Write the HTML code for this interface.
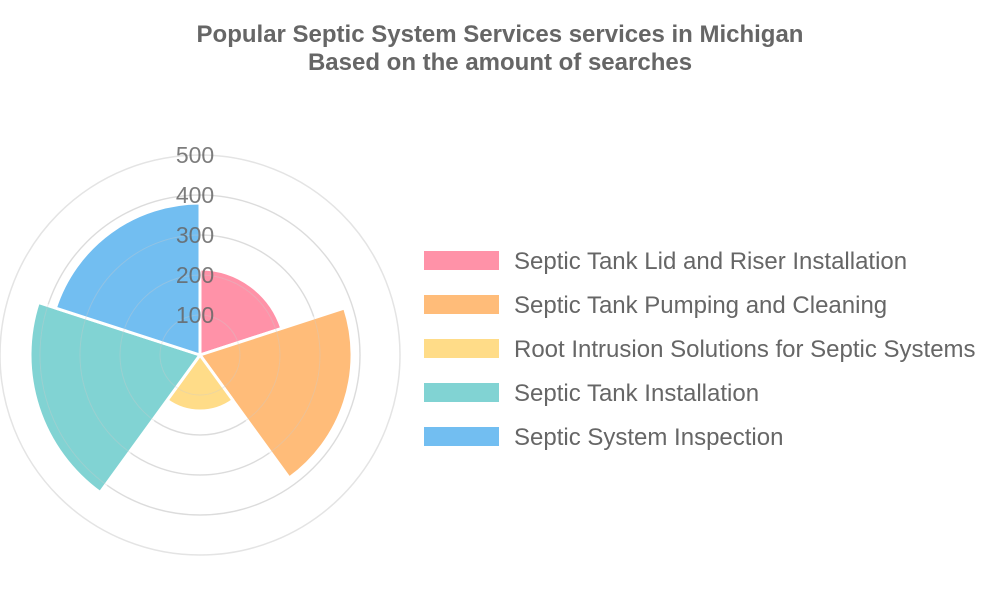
<!DOCTYPE html>
<html><head><meta charset="utf-8"><style>
body{margin:0;background:#fff;}
svg{display:block;font-family:"Liberation Sans",sans-serif;}
</style></head><body>
<svg width="1000" height="600" viewBox="0 0 1000 600">
<text x="500" y="42" text-anchor="middle" font-size="24" font-weight="bold" fill="#666">Popular Septic System Services services in Michigan</text>
<text x="500" y="70" text-anchor="middle" font-size="24" font-weight="bold" fill="#666">Based on the amount of searches</text>
<g fill="none" stroke="#e4e4e4" stroke-width="1.5">
<circle cx="200" cy="355" r="40"/><circle cx="200" cy="355" r="80"/><circle cx="200" cy="355" r="120"/><circle cx="200" cy="355" r="160"/><circle cx="200" cy="355" r="200"/>
</g>
<g stroke="#fff" stroke-width="3" stroke-linejoin="round">
<path d="M200 355 L200 269 A86 86 0 0 1 281.8 328.4 Z" fill="rgb(255,146,168)"/>
<path d="M200 355 L344.6 308 A152 152 0 0 1 289.3 478 Z" fill="rgb(255,188,121)"/>
<path d="M200 355 L232.9 400.3 A56 56 0 0 1 167.1 400.3 Z" fill="rgb(255,220,136)"/>
<path d="M200 355 L100.1 492.5 A170 170 0 0 1 38.3 302.5 Z" fill="rgb(129,211,211)"/>
<path d="M200 355 L55.4 308 A152 152 0 0 1 200 203 Z" fill="rgb(114,190,241)"/>
</g>
<g fill="none" stroke="#ccc" stroke-opacity="0.35" stroke-width="1">
<circle cx="200" cy="355" r="40"/><circle cx="200" cy="355" r="80"/><circle cx="200" cy="355" r="120"/><circle cx="200" cy="355" r="160"/>
</g>
<g font-size="23" fill="#666" text-anchor="middle" fill-opacity="0.85">
<text x="195" y="323">100</text><text x="195" y="283">200</text><text x="195" y="243">300</text><text x="195" y="203">400</text><text x="195" y="163">500</text>
</g>
<g font-size="24" fill="#666">
<rect x="424" y="251" width="75" height="19" fill="rgb(255,146,168)"/><text x="514" y="269">Septic Tank Lid and Riser Installation</text>
<rect x="424" y="295" width="75" height="19" fill="rgb(255,188,121)"/><text x="514" y="313">Septic Tank Pumping and Cleaning</text>
<rect x="424" y="339" width="75" height="19" fill="rgb(255,220,136)"/><text x="514" y="357">Root Intrusion Solutions for Septic Systems</text>
<rect x="424" y="383" width="75" height="19" fill="rgb(129,211,211)"/><text x="514" y="401">Septic Tank Installation</text>
<rect x="424" y="427" width="75" height="19" fill="rgb(114,190,241)"/><text x="514" y="445">Septic System Inspection</text>
</g>
</svg>
</body></html>
